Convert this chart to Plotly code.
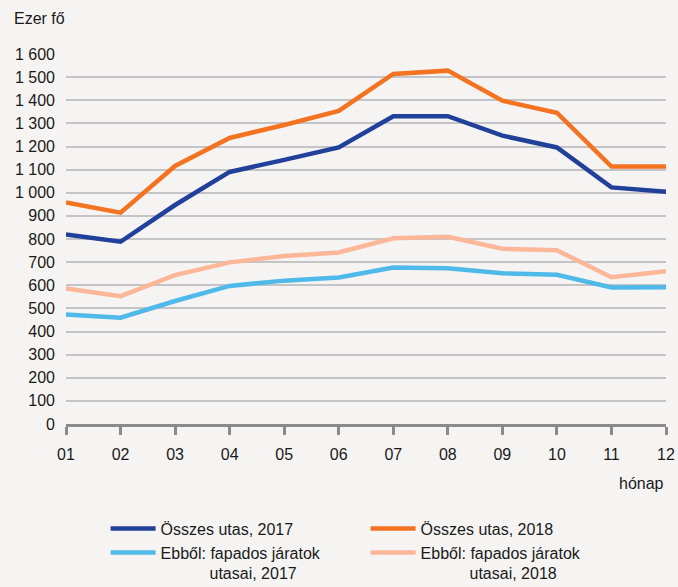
import plotly.graph_objects as go

months = ["01", "02", "03", "04", "05", "06", "07", "08", "09", "10", "11", "12"]
osszes_2017 = [820, 788, 947, 1090, 1142, 1196, 1331, 1331, 1247, 1196, 1023, 1004]
osszes_2018 = [958, 914, 1116, 1237, 1293, 1354, 1514, 1528, 1398, 1346, 1113, 1113]
fapados_2017 = [473, 460, 532, 597, 620, 634, 677, 674, 652, 645, 590, 591]
fapados_2018 = [586, 553, 644, 699, 726, 742, 803, 810, 758, 751, 635, 661]

y_ticks = list(range(0, 1700, 100))
y_labels = [f"{v:,}".replace(",", " ") for v in y_ticks]

FONT = "Liberation Sans, Arial, sans-serif"
FS = 16
BG = "#f5f4f2"
TXT = "#1a1a1a"
NB = "\u00a0"

series = [
    ("Összes utas, 2017", osszes_2017, "#21409a"),
    ("Összes utas, 2018", osszes_2018, "#f47321"),
    ("Ebből: fapados járatok<br>" + NB * 11 + "utasai, 2017", fapados_2017, "#4fb9e9"),
    ("Ebből: fapados járatok<br>" + NB * 11 + "utasai, 2018", fapados_2018, "#fcb698"),
]

fig = go.Figure()
for name, vals, color in series:
    fig.add_trace(go.Scatter(
        x=months, y=vals, name=name, mode="lines",
        line=dict(color=color, width=4.5),
    ))

fig.update_layout(
    width=678, height=587,
    margin=dict(l=66, r=12, t=54, b=163, autoexpand=False),
    paper_bgcolor=BG, plot_bgcolor=BG,
    font=dict(family=FONT, size=FS, color=TXT),
    showlegend=True,
    legend=dict(
        orientation="h", x=0.066, xanchor="left", y=-0.237, yanchor="top",
        entrywidth=200, entrywidthmode="pixels", itemwidth=45,
        valign="top", traceorder="normal", bgcolor="rgba(0,0,0,0)",
        font=dict(family=FONT, size=FS, color=TXT),
        tracegroupgap=0,
    ),
    xaxis=dict(
        type="category", range=[0, 11], showgrid=False, zeroline=False,
        showline=True, linecolor="#8a8a8a", linewidth=2.5,
        ticks="outside", ticklen=8, tickwidth=2.5, tickcolor="#8a8a8a",
        ticklabelstandoff=6,
        tickfont=dict(family=FONT, size=FS, color=TXT),
    ),
    yaxis=dict(
        range=[0, 1600], tickvals=y_ticks, ticktext=y_labels,
        showgrid=True, gridcolor="#c4c4c6", gridwidth=1.5,
        zeroline=False, showline=False, ticks="", ticklabelstandoff=10,
        tickfont=dict(family=FONT, size=FS, color=TXT),
    ),
    annotations=[
        dict(text="Ezer fő", xref="paper", yref="paper", x=-0.09, y=1.0,
             xanchor="left", yanchor="middle", yshift=36, showarrow=False,
             font=dict(family=FONT, size=FS, color=TXT)),
        dict(text="hónap", xref="paper", yref="paper", x=1.0, y=0,
             xanchor="right", yanchor="middle", yshift=-59, showarrow=False,
             font=dict(family=FONT, size=FS, color=TXT)),
    ],
)

fig.write_html(
    "out.html",
    config={"displayModeBar": False},
    post_script="document.body.style.margin='0';document.body.style.background='" + BG + "';",
)
